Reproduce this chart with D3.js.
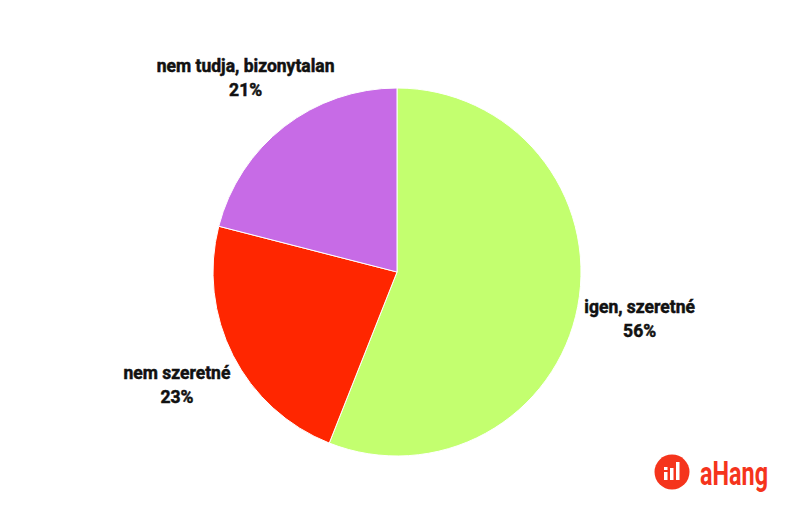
<!DOCTYPE html>
<html><head><meta charset="utf-8">
<script src="https://cdn.jsdelivr.net/npm/d3@7"></script>
<style>body{margin:0;background:#fff}svg{display:block}</style>
</head><body>
<svg id="c" width="808" height="528"></svg>
<script>
const categories = ["igen, szeretné", "nem szeretné", "nem tudja, bizonytalan"];
const values = [56, 23, 21];
const colors = ["#c3ff6f", "#ff2600", "#c76be6"];

const svg = d3.select("#c");
const cx = 397, cy = 272, r = 184, lr = 247;
const data = categories.map((c, i) => ({cat: c, val: values[i], col: colors[i]}));
const pie = d3.pie().sort(null).value(d => d.val);
const arcs = pie(data);
const arc = d3.arc().innerRadius(0).outerRadius(r);
const g = svg.append("g").attr("transform", `translate(${cx},${cy})`);
g.selectAll("path").data(arcs).join("path")
  .attr("d", arc).attr("fill", d => d.data.col)
  .attr("stroke", "#fff").attr("stroke-width", 1);

const lab = g.selectAll("text.l").data(arcs).join("text")
  .attr("class", "l")
  .attr("text-anchor", "middle")
  .attr("font-family", "Roboto, sans-serif")
  .attr("font-weight", 700)
  .attr("font-size", 17.5)
  .attr("fill", "#111")
  .attr("stroke", "#111").attr("stroke-width", 0.5)
  .attr("transform", d => {
    const a = (d.startAngle + d.endAngle) / 2;
    return `translate(${Math.sin(a) * lr},${-Math.cos(a) * lr})`;
  });
lab.append("tspan").attr("x", 0).attr("y", -5).text(d => d.data.cat);
lab.append("tspan").attr("x", 0).attr("y", 19).text(d => d.data.val + "%");

// logo
const logo = svg.append("g").attr("transform", "translate(672,472)");
logo.append("circle").attr("r", 17.5).attr("fill", "#f5341c");
[[-8, 0, 8], [-8, -5, 3], [-2, -4, 12], [4, -10, 18]].forEach(([x, y, h]) => {
  logo.append("rect").attr("x", x).attr("y", y).attr("width", 3.5).attr("height", h).attr("fill", "#fff");
});
svg.append("text").attr("x", 700).attr("y", 485)
  .attr("font-family", "Roboto, sans-serif").attr("font-weight", 700)
  .attr("font-size", 33).attr("fill", "#f5341c")
  .attr("textLength", 68).attr("lengthAdjust", "spacingAndGlyphs")
  .text("aHang");
</script>
</body></html>
